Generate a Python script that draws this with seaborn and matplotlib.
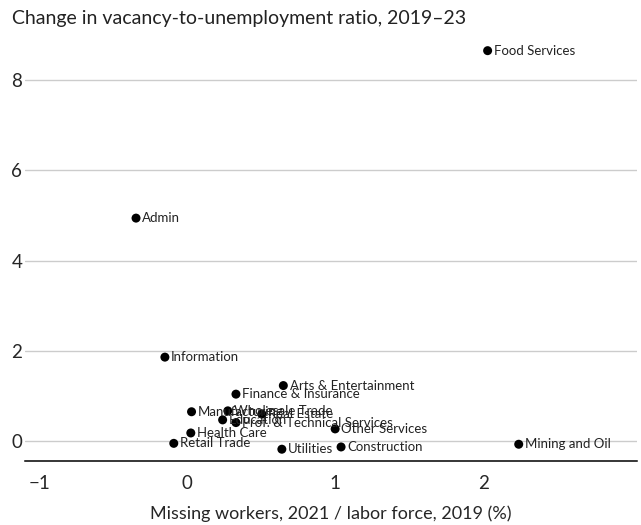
import pandas as pd
import seaborn as sns
import matplotlib.pyplot as plt

industries = ["Food Services", "Admin", "Information", "Arts & Entertainment",
              "Finance & Insurance", "Manufacturing", "Wholesale Trade", "Real Estate",
              "Education", "Prof. & Technical Services", "Health Care", "Retail Trade",
              "Utilities", "Construction", "Other Services", "Mining and Oil"]
missing_workers = [2.03, -0.345, -0.15, 0.65, 0.33, 0.03, 0.275, 0.505,
                   0.24, 0.33, 0.025, -0.09, 0.64, 1.04, 1.0, 2.24]
vu_change = [8.65, 4.94, 1.86, 1.23, 1.04, 0.65, 0.67, 0.60,
             0.47, 0.41, 0.18, -0.05, -0.18, -0.13, 0.27, -0.07]

df = pd.DataFrame({"industry": industries, "x": missing_workers, "y": vu_change})

sns.set_style("white")
plt.rcParams['font.family'] = ['Lato', 'DejaVu Sans']

fig = plt.figure(figsize=(6.41, 5.25), dpi=100)
ax = fig.add_axes([0.039, 0.122, 0.955, 0.803])

sns.scatterplot(x="x", y="y", data=df, color="black", s=42, edgecolor="none", ax=ax, zorder=3)

for _, row in df.iterrows():
    ax.annotate(row["industry"], (row["x"], row["y"]), xytext=(4.5, 0),
                textcoords="offset points", va="center", ha="left", fontsize=9.5,
                color="#222222")

ax.set_xlim(-1.095, 3.04)
ax.set_ylim(-0.44, 8.9)
ax.set_xticks([-1, 0, 1, 2])
ax.set_xticklabels(["\u22121", "0", "1", "2"])
ax.set_yticks([0, 2, 4, 6, 8])
ax.yaxis.grid(True, color="#cccccc", linewidth=1)
ax.set_axisbelow(True)

for side in ["top", "right", "left"]:
    ax.spines[side].set_visible(False)
ax.spines["bottom"].set_color("black")
ax.spines["bottom"].set_linewidth(1.1)

ax.tick_params(axis="x", direction="out", length=6, width=1, color="black",
               labelsize=13.5, pad=4)
ax.tick_params(axis="y", length=0, labelsize=13.5, pad=2)

ax.set_xlabel("Missing workers, 2021 / labor force, 2019 (%)", fontsize=13, labelpad=10)
ax.set_ylabel("")
fig.text(0.019, 0.965, "Change in vacancy-to-unemployment ratio, 2019\u201323",
         fontsize=14, ha="left", va="center", color="#222222")

fig.savefig("out.png", dpi=100)
